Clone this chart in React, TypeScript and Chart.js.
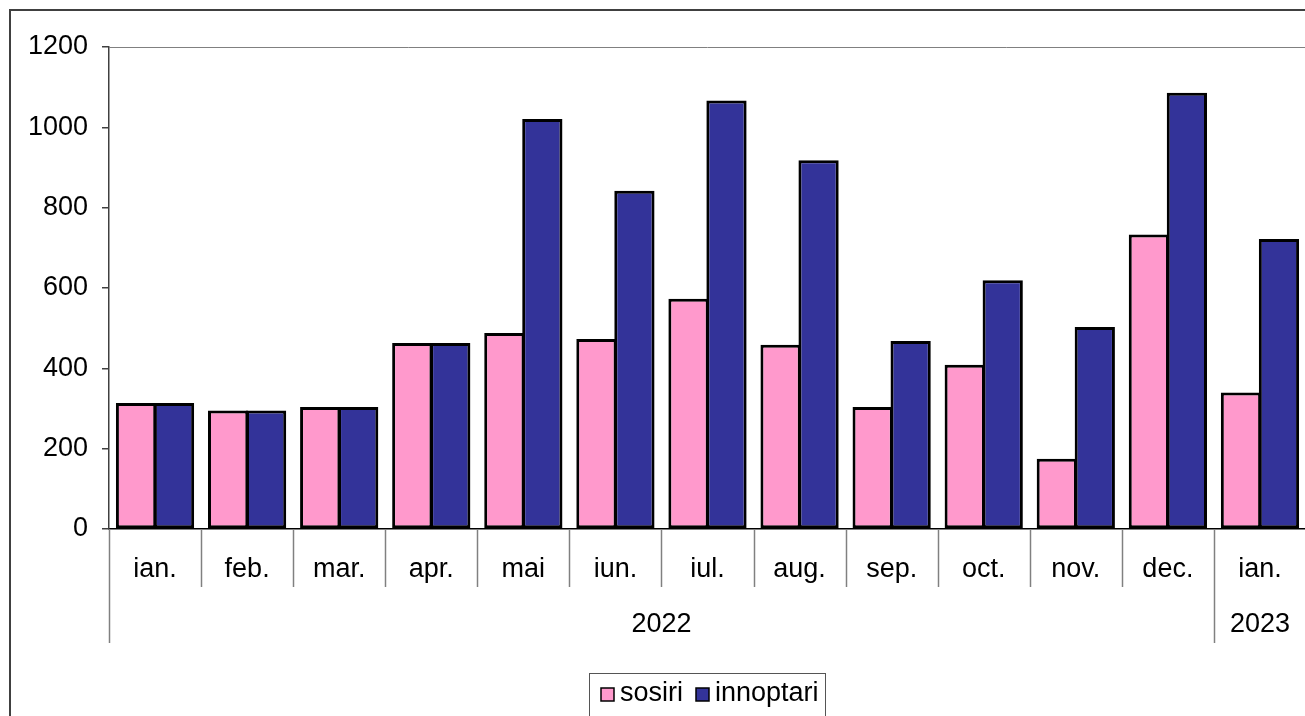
import React, { useEffect, useRef } from 'react';
import { Chart, registerables } from 'chart.js';

Chart.register(...registerables);

const months = ['ian.', 'feb.', 'mar.', 'apr.', 'mai', 'iun.', 'iul.', 'aug.', 'sep.', 'oct.', 'nov.', 'dec.', 'ian.'];
const years = ['2022', '2023'];
const yearSpans = [12, 1];
const sosiri = [314, 295, 304, 463, 488, 473, 573, 459, 304, 409, 175, 733, 340];
const innoptari = [314, 295, 304, 463, 1021, 842, 1067, 918, 468, 619, 503, 1086, 722];
const yMin = 0;
const yMax = 1200;
const yStep = 200;

const FONT = "'Liberation Sans', Arial, sans-serif";
const FS = 27;

const decor = {
  id: 'decor',
  afterDraw(chart: any) {
    const { ctx, chartArea } = chart;
    const x = chart.scales.x;
    ctx.save();
    // outer border
    ctx.strokeStyle = '#404040';
    ctx.lineWidth = 2;
    ctx.beginPath();
    ctx.moveTo(10, chart.height);
    ctx.lineTo(10, 10);
    ctx.lineTo(chart.width, 10);
    ctx.stroke();

    // top border of plot area
    ctx.strokeStyle = '#808080';
    ctx.lineWidth = 1;
    ctx.beginPath();
    ctx.moveTo(chartArea.left, Math.round(chartArea.top) + 0.5);
    ctx.lineTo(chartArea.right, Math.round(chartArea.top) + 0.5);
    ctx.stroke();

    // category separators below the axis
    const w = x.getPixelForValue(1) - x.getPixelForValue(0);
    const start = x.getPixelForValue(0) - w / 2;
    const yb = chartArea.bottom;
    const bounds = new Set<number>([0]);
    let acc = 0;
    yearSpans.forEach((s) => { acc += s; bounds.add(acc); });
    ctx.strokeStyle = '#808080';
    ctx.lineWidth = 1.5;
    for (let i = 0; i <= months.length; i++) {
      const bx = Math.round(start + i * w) + 0.5;
      const len = bounds.has(i) ? 114 : 58;
      ctx.beginPath();
      ctx.moveTo(bx, yb);
      ctx.lineTo(bx, yb + len);
      ctx.stroke();
    }

    // year labels
    ctx.fillStyle = '#000';
    ctx.font = `${FS}px ${FONT}`;
    ctx.textAlign = 'center';
    ctx.textBaseline = 'middle';
    let c = 0;
    years.forEach((yr, k) => {
      const l = start + c * w;
      const r = start + (c + yearSpans[k]) * w;
      ctx.fillText(yr, (l + r) / 2, yb + 96);
      c += yearSpans[k];
    });

    // legend
    const lx = 589, ly = 673;
    ctx.strokeStyle = '#555';
    ctx.lineWidth = 1;
    ctx.strokeRect(lx + 0.5, ly + 0.5, 236, 80);
    const items = chart.data.datasets;
    const pos = [601, 696];
    ctx.textAlign = 'left';
    items.forEach((ds: any, k: number) => {
      const sx = pos[k];
      ctx.fillStyle = ds.backgroundColor;
      ctx.fillRect(sx, 688, 13, 13);
      ctx.strokeStyle = '#000';
      ctx.lineWidth = 1.5;
      ctx.strokeRect(sx, 688, 13, 13);
      ctx.fillStyle = '#000';
      ctx.fillText(ds.label, sx + 19, 694);
    });
    ctx.restore();
  },
};

export default function App() {
  const ref = useRef<HTMLCanvasElement>(null);
  useEffect(() => {
    if (!ref.current) return;
    const chart = new Chart(ref.current, {
      type: 'bar',
      data: {
        labels: months,
        datasets: [
          {
            label: 'sosiri',
            data: sosiri,
            backgroundColor: '#FF99CC',
            borderColor: '#000',
            borderWidth: 3,
            borderSkipped: false,
            categoryPercentage: 0.825,
            barPercentage: 1.06,
          },
          {
            label: 'innoptari',
            data: innoptari,
            backgroundColor: '#333399',
            borderColor: '#000',
            borderWidth: 3,
            borderSkipped: false,
            categoryPercentage: 0.825,
            barPercentage: 1.06,
          },
        ],
      },
      options: {
        responsive: false,
        animation: false,
        devicePixelRatio: 1,
        layout: { padding: { left: 0, top: 47, right: 14, bottom: 151 } },
        plugins: { legend: { display: false }, tooltip: { enabled: false } },
        scales: {
          x: {
            offset: true,
            grid: { display: true, drawOnChartArea: false, drawTicks: false, offset: true },
            border: { display: true, color: '#000', width: 1.5 },
            ticks: {
              color: '#000',
              font: { family: FONT, size: FS },
              padding: 24,
              maxRotation: 0,
              autoSkip: false,
            },
            afterFit(scale: any) { scale.height = 60; },
          },
          y: {
            min: yMin,
            max: yMax,
            grid: { display: true, drawOnChartArea: false, drawTicks: true, tickLength: 7, color: '#404040', lineWidth: 1.5 },
            border: { display: true, color: '#404040', width: 1.5 },
            ticks: {
              stepSize: yStep,
              color: '#000',
              font: { family: FONT, size: FS },
              padding: 14,
              callback: (v: any) => String(v),
            },
            afterFit(scale: any) { scale.width = 109; },
          },
        },
      },
      plugins: [decor],
    });
    return () => chart.destroy();
  }, []);
  return (
    <div style={{ position: 'fixed', left: 0, top: 0, width: 1305, height: 716, overflow: 'hidden', background: '#fff' }}>
      <canvas ref={ref} width={1320} height={740} style={{ width: 1320, height: 740, display: 'block' }} />
    </div>
  );
}
